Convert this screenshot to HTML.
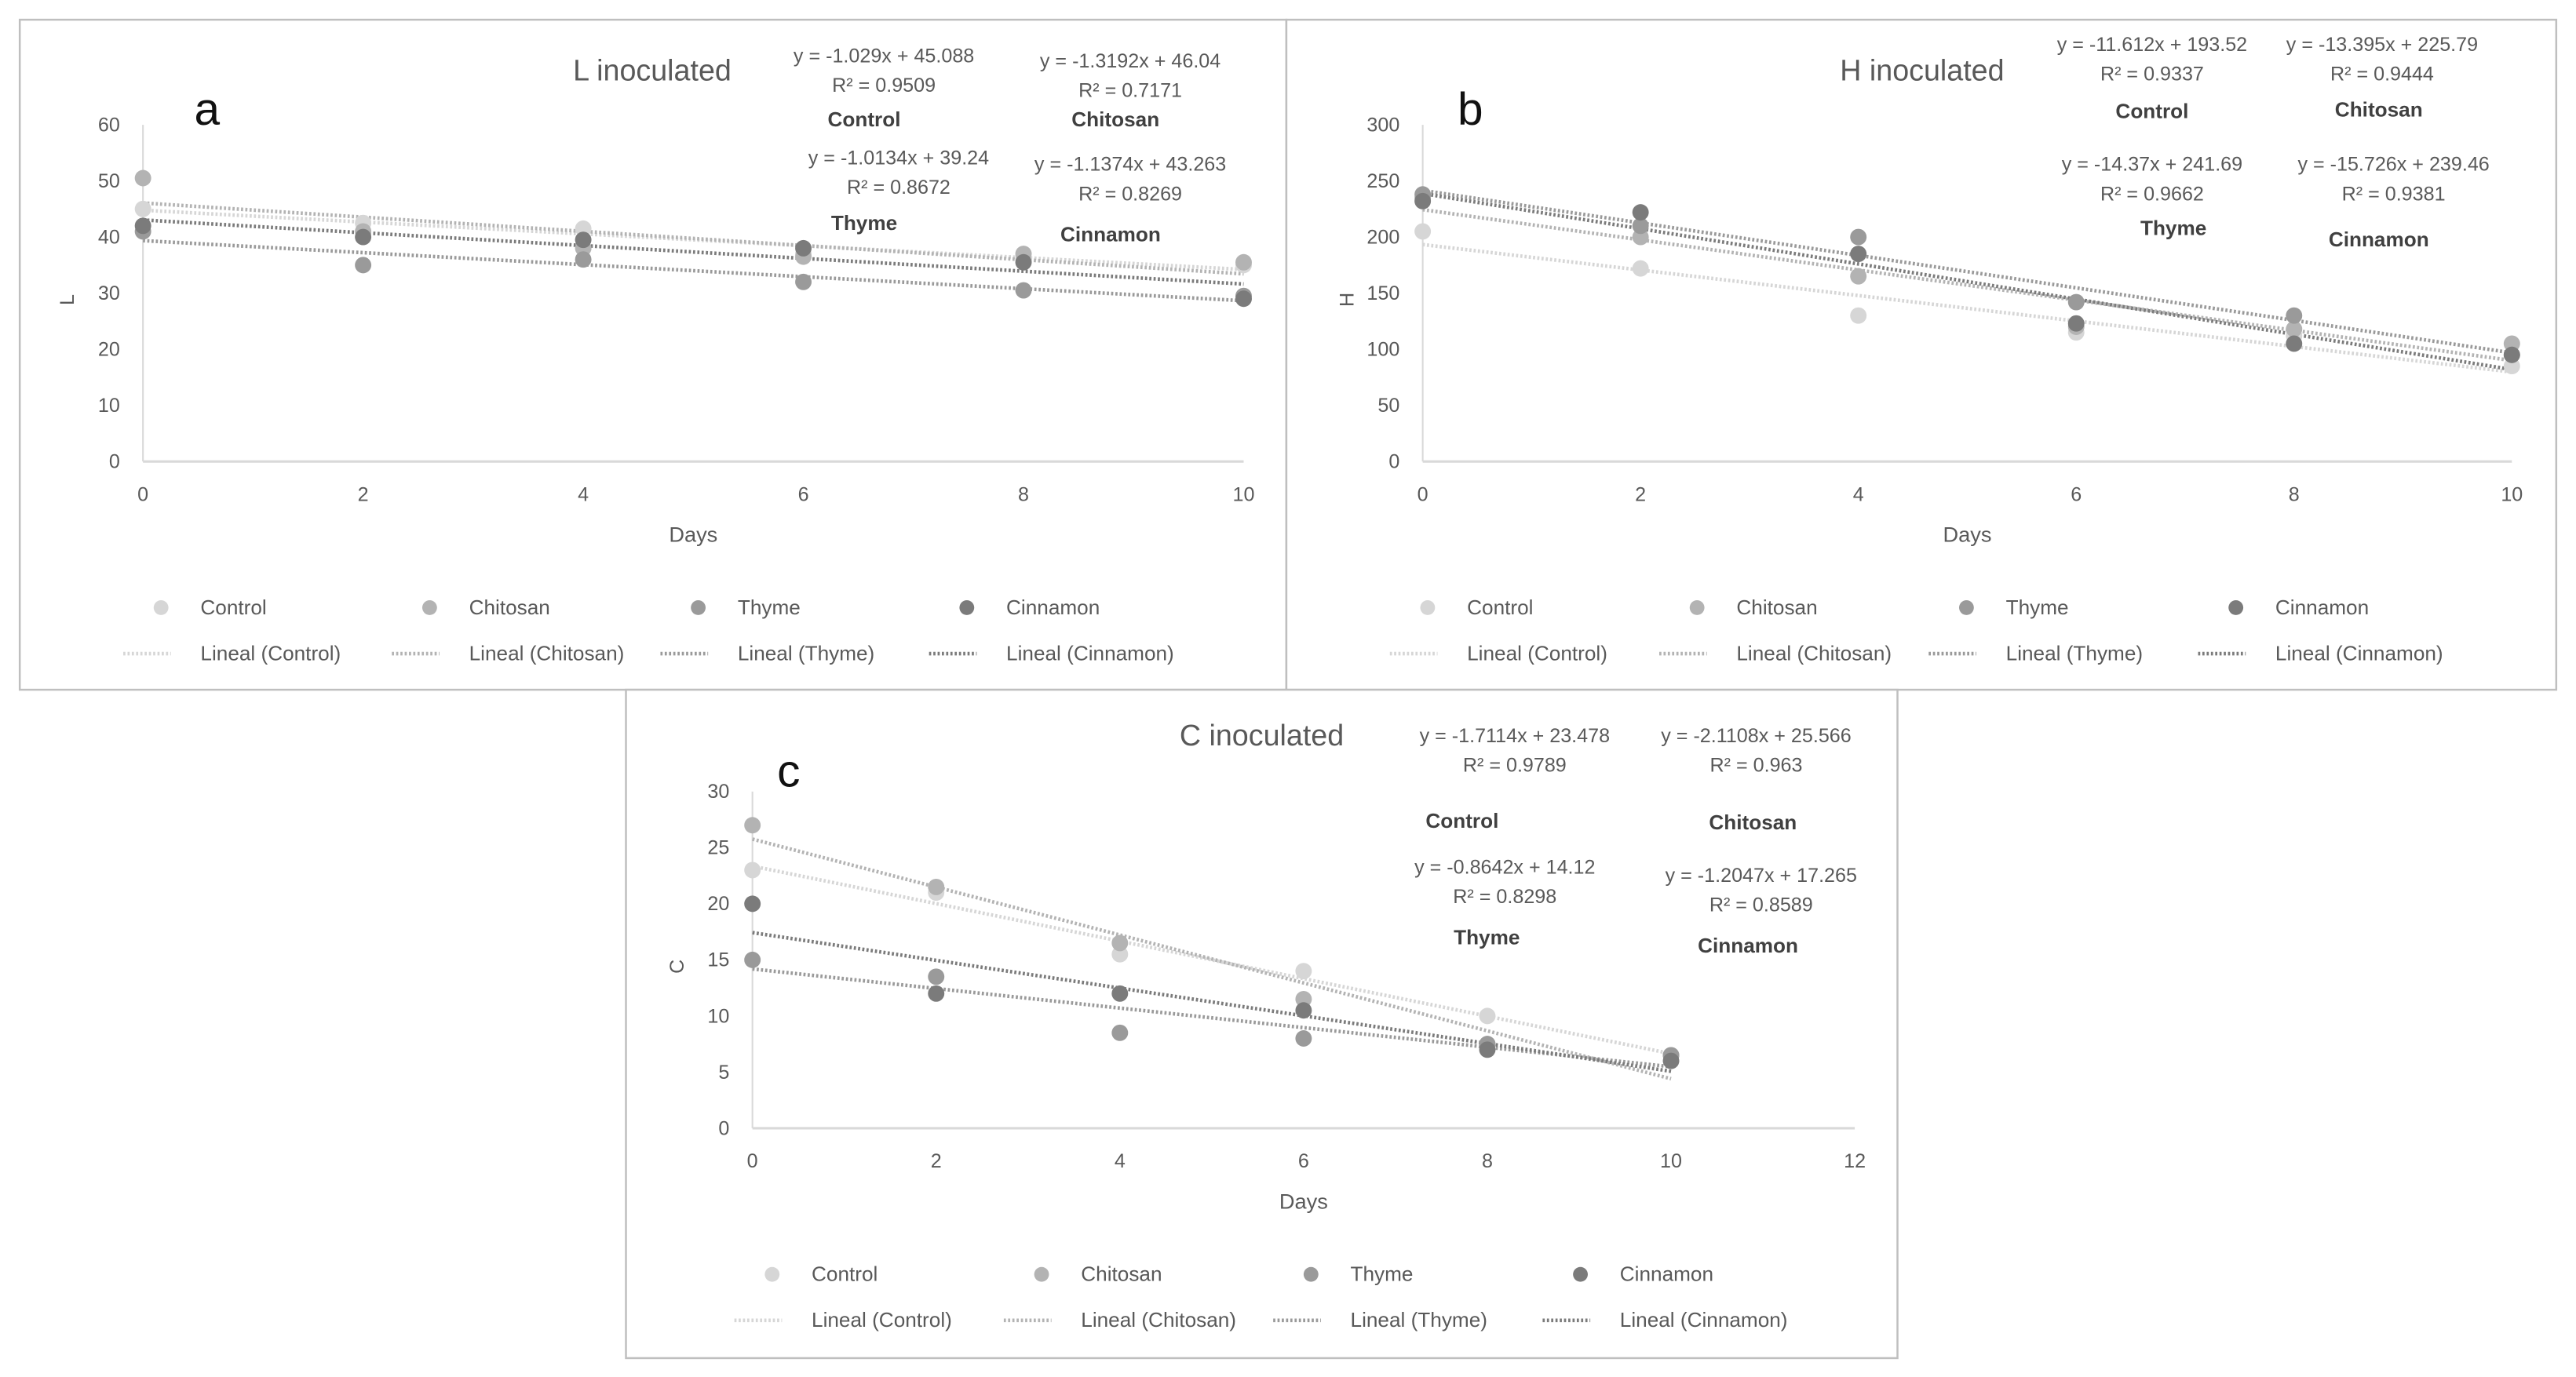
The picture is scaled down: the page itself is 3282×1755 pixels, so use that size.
<!DOCTYPE html>
<html><head><meta charset="utf-8">
<style>
html,body{margin:0;padding:0;background:#fff;}
svg{display:block;font-family:"Liberation Sans",sans-serif;}
</style></head>
<body>
<svg id="fig" width="3282" height="1755" viewBox="0 0 1568 838.5" xmlns="http://www.w3.org/2000/svg">
<rect x="0" y="0" width="1568" height="838.5" fill="#fff"/>
</svg>
<script>
// ---- data ----
const seriesNames = ["Control","Chitosan","Thyme","Cinnamon"];
const days = [0,2,4,6,8,10];
// Panel a (L)
const lControl  = [45,42.5,41.5,37,36,35];
const lChitosan = [50.5,41,38,36.5,37,35.5];
const lThyme    = [41,35,36,32,30.5,29.5];
const lCinnamon = [42,40,39.5,38,35.5,29];
const lTicks = [0,10,20,30,40,50,60];
const lEq = ["y = -1.029x + 45.088","y = -1.3192x + 46.04","y = -1.0134x + 39.24","y = -1.1374x + 43.263"];
const lR2 = ["R² = 0.9509","R² = 0.7171","R² = 0.8672","R² = 0.8269"];
// Panel b (H)
const hControl  = [205,172,130,115,112,85];
const hChitosan = [235,200,165,120,118,105];
const hThyme    = [238,210,200,142,130,95];
const hCinnamon = [232,222,185,123,105,95];
const hTicks = [0,50,100,150,200,250,300];
const hEq = ["y = -11.612x + 193.52","y = -13.395x + 225.79","y = -14.37x + 241.69","y = -15.726x + 239.46"];
const hR2 = ["R² = 0.9337","R² = 0.9444","R² = 0.9662","R² = 0.9381"];
// Panel c (C)
const cControl  = [23,21,15.5,14,10,6.5];
const cChitosan = [27,21.5,16.5,11.5,7.5,6.5];
const cThyme    = [15,13.5,8.5,8,7.5,6.5];
const cCinnamon = [20,12,12,10.5,7,6];
const cTicks = [0,5,10,15,20,25,30];
const cXTicks = [0,2,4,6,8,10,12];
const cEq = ["y = -1.7114x + 23.478","y = -2.1108x + 25.566","y = -0.8642x + 14.12","y = -1.2047x + 17.265"];
const cR2 = ["R² = 0.9789","R² = 0.963","R² = 0.8298","R² = 0.8589"];
const abXTicks = [0,2,4,6,8,10];

const colors = ["#d6d6d6","#b3b3b3","#9a9a9a","#7b7b7b"];
const NS = "http://www.w3.org/2000/svg";
const svg = document.getElementById('fig');
function mk(tag, attrs, parent){
  const e = document.createElementNS(NS, tag);
  for (const k in attrs) e.setAttribute(k, attrs[k]);
  (parent||svg).appendChild(e); return e;
}
function txt(parent, x, y, s, size, opts){
  opts = opts||{};
  const t = mk('text',{x:x,y:y,'font-size':size,fill:opts.fill||'#595959','text-anchor':opts.anchor||'middle','font-weight':opts.bold?'bold':'normal'},parent);
  if (opts.rot) t.setAttribute('transform','rotate(-90 '+x+' '+y+')');
  t.textContent = s; return t;
}
function fit(xs, ys){
  const n=xs.length; let sx=0,sy=0,sxx=0,sxy=0;
  for(let i=0;i<n;i++){sx+=xs[i];sy+=ys[i];sxx+=xs[i]*xs[i];sxy+=xs[i]*ys[i];}
  const m=(n*sxy-sx*sy)/(n*sxx-sx*sx); return {m:m,b:(sy-m*sx)/n};
}

function panel(cfg){
  const g = mk('g',{});
  
  
  const box = mk('rect',{x:cfg.box[0],y:cfg.box[1],width:cfg.box[2],height:cfg.box[3],fill:'#fff',stroke:'#bfbfbf','stroke-width':1.2},g);
  
  
  const xMin=cfg.xTicks[0], xMax=cfg.xTicks[cfg.xTicks.length-1];
  const yMax=cfg.yTicks[cfg.yTicks.length-1];
  const X = v => cfg.px0 + (v-xMin)/(xMax-xMin)*(cfg.px1-cfg.px0);
  const Y = v => cfg.py0 - v/yMax*(cfg.py0-cfg.py1);
  const ya = mk('line',{x1:cfg.px0,y1:Y(0),x2:cfg.px0,y2:Y(yMax),stroke:'#d9d9d9','stroke-width':1},g);
  
  
  const xa = mk('line',{x1:cfg.px0,y1:Y(0),x2:cfg.px1,y2:Y(0),stroke:'#d9d9d9','stroke-width':1.5},g);
  
  
  cfg.yTicks.forEach(v=>{
    const t = txt(g, cfg.px0-14, Y(v)+4, String(v), 12, {anchor:'end'});
    
    
  });
  cfg.xTicks.forEach(v=>{
    const t = txt(g, X(v), Y(0)+24, String(v), 12);
    
    
  });
  const xt = txt(g, (cfg.px0+cfg.px1)/2, Y(0)+49, 'Days', 13);
  
  
  const yt = txt(g, cfg.px0-42, (Y(0)+Y(yMax))/2+4, cfg.ytitle, 12, {rot:true});
  
  
  const tt = txt(g, cfg.title[1], cfg.title[2], cfg.title[0], 18);
  
  
  const lt = txt(g, cfg.letter[1], cfg.letter[2], cfg.letter[0], 28, {fill:'#111'});
  
  
  cfg.series.forEach((ys,i)=>{
    const f = fit(days, ys);
    const l = mk('line',{x1:X(0),y1:Y(f.b),x2:X(10),y2:Y(f.b+f.m*10),stroke:colors[i],'stroke-width':2.2,'stroke-dasharray':'1.3 1.3'},g);
    
    
  });
  cfg.series.forEach((ys,i)=>{
    ys.forEach((v,j)=>{
      const c = mk('circle',{cx:X(days[j]),cy:Y(v),r:5,fill:colors[i]},g);
      
      
    });
  });
  cfg.eqPos.forEach((p,i)=>{
    const a = txt(g, p[0], p[1], cfg.eq[i], 12);
    
    
    const b = txt(g, p[0], p[1]+18, cfg.r2[i], 12);
    
    
    const c = txt(g, p[2], p[3], seriesNames[i], 12.5, {fill:'#404040',bold:true});
    
    
  });
  seriesNames.forEach((n,i)=>{
    const lx = cfg.legX + i*cfg.legStep;
    const m = mk('circle',{cx:lx,cy:cfg.legY-4,r:4.5,fill:colors[i]},g);
    
    
    const t = txt(g, lx+24, cfg.legY, n, 12.5, {anchor:'start'});
    
    
    const l = mk('line',{x1:lx-23,y1:cfg.legY+24,x2:lx+6,y2:cfg.legY+24,stroke:colors[i],'stroke-width':2.2,'stroke-dasharray':'1.3 1.3'},g);
    
    
    const t2 = txt(g, lx+24, cfg.legY+28, 'Lineal ('+n+')', 12.5, {anchor:'start'});
    
    
  });
}

panel({name:'panel-a-l-inoculated', box:[12,12,771,408], px0:87, px1:757, py0:281, py1:76,
  xTicks:abXTicks, yTicks:lTicks, ytitle:'L', title:['L inoculated',397,49], letter:['a',126,76],
  series:[lControl,lChitosan,lThyme,lCinnamon], eq:lEq, r2:lR2,
  eqPos:[[538,38,526,77],[688,41,679,77],[547,100,526,140],[688,104,676,147]],
  legX:98, legStep:163.5, legY:374});
panel({name:'panel-b-h-inoculated', box:[783,12,773,408], px0:866, px1:1529, py0:281, py1:76,
  xTicks:abXTicks, yTicks:hTicks, ytitle:'H', title:['H inoculated',1170,49], letter:['b',895,76],
  series:[hControl,hChitosan,hThyme,hCinnamon], eq:hEq, r2:hR2,
  eqPos:[[1310,31,1310,72],[1450,31,1448,71],[1310,104,1323,143],[1457,104,1448,150]],
  legX:869, legStep:164, legY:374});
panel({name:'panel-c-c-inoculated', box:[381,420,774,407], px0:458, px1:1129, py0:687, py1:482,
  xTicks:cXTicks, yTicks:cTicks, ytitle:'C', title:['C inoculated',768,454], letter:['c',480,479],
  series:[cControl,cChitosan,cThyme,cCinnamon], eq:cEq, r2:cR2,
  eqPos:[[922,452,890,504],[1069,452,1067,505],[916,532,905,575],[1072,537,1064,580]],
  legX:470, legStep:164, legY:780});
</script>
</body></html>
